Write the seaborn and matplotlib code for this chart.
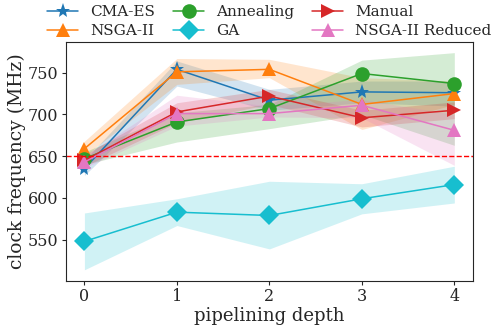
import numpy as np
import pandas as pd
import matplotlib
matplotlib.use("Agg")
import matplotlib.pyplot as plt
import seaborn as sns

depth = [0, 1, 2, 3, 4]
methods = ["CMA-ES", "NSGA-II", "Annealing", "GA", "Manual", "NSGA-II Reduced"]

cma_mean = [635, 754, 717, 727, 726]
cma_low = [627, 734, 705, 714, 710]
cma_high = [645, 764, 730, 740, 740]

nsga_mean = [659, 751, 754, 712, 725]
nsga_low = [650, 736, 744, 682, 712]
nsga_high = [668, 767, 766, 744, 740]

anneal_mean = [647, 691, 707, 749, 737]
anneal_low = [640, 667, 683, 700, 663]
anneal_high = [655, 702, 712, 765, 774]

ga_mean = [548, 583, 579, 599, 616]
ga_low = [514, 567, 539, 581, 594]
ga_high = [582, 599, 620, 617, 638]

manual_mean = [645, 703, 722, 696, 705]
manual_low = [638, 690, 712, 685, 695]
manual_high = [652, 714, 730, 705, 715]

reduced_mean = [643, 701, 701, 711, 681]
reduced_low = [636, 686, 697, 696, 639]
reduced_high = [650, 723, 710, 718, 700]

means = [cma_mean, nsga_mean, anneal_mean, ga_mean, manual_mean, reduced_mean]
lows = [cma_low, nsga_low, anneal_low, ga_low, manual_low, reduced_low]
highs = [cma_high, nsga_high, anneal_high, ga_high, manual_high, reduced_high]

colors = ["#1f77b4", "#ff7f0e", "#2ca02c", "#17becf", "#d62728", "#e377c2"]
markers = ["*", "^", "o", "D", ">", "^"]
msizes = [11, 10.5, 10.5, 10.5, 10.5, 10.5]

baseline = 650

sns.set_style("ticks")
plt.rcParams["font.family"] = ["DejaVu Serif"]

fig, ax = plt.subplots(figsize=(4.92, 3.29), dpi=100)
fig.subplots_adjust(left=0.134, right=0.961, top=0.873, bottom=0.147)

for name, m, lo, hi, c, mk, ms in zip(methods, means, lows, highs, colors, markers, msizes):
    df = pd.DataFrame({"depth": depth, "freq": m})
    sns.lineplot(data=df, x="depth", y="freq", ax=ax, color=c, marker=mk,
                 markersize=ms, markeredgewidth=0, linewidth=1.1, label=name)
    ax.fill_between(depth, lo, hi, color=c, alpha=0.2, linewidth=0)

ax.axhline(baseline, color="red", linestyle="--", linewidth=1)

ax.set_xticks(depth)
ax.set_xlabel("pipelining depth", fontsize=13, labelpad=1)
ax.set_ylabel("clock frequency (MHz)", fontsize=13.5, labelpad=1)
ax.tick_params(labelsize=11.5, length=3, pad=2.5)
for s in ax.spines.values():
    s.set_visible(True)

ax.legend(loc="lower center", bbox_to_anchor=(0.5, 0.99), ncol=3, frameon=False,
          fontsize=11, borderaxespad=0, handlelength=2.0, columnspacing=1.2,
          labelspacing=0.3, handletextpad=0.8)

fig.savefig("out.png", dpi=100)
